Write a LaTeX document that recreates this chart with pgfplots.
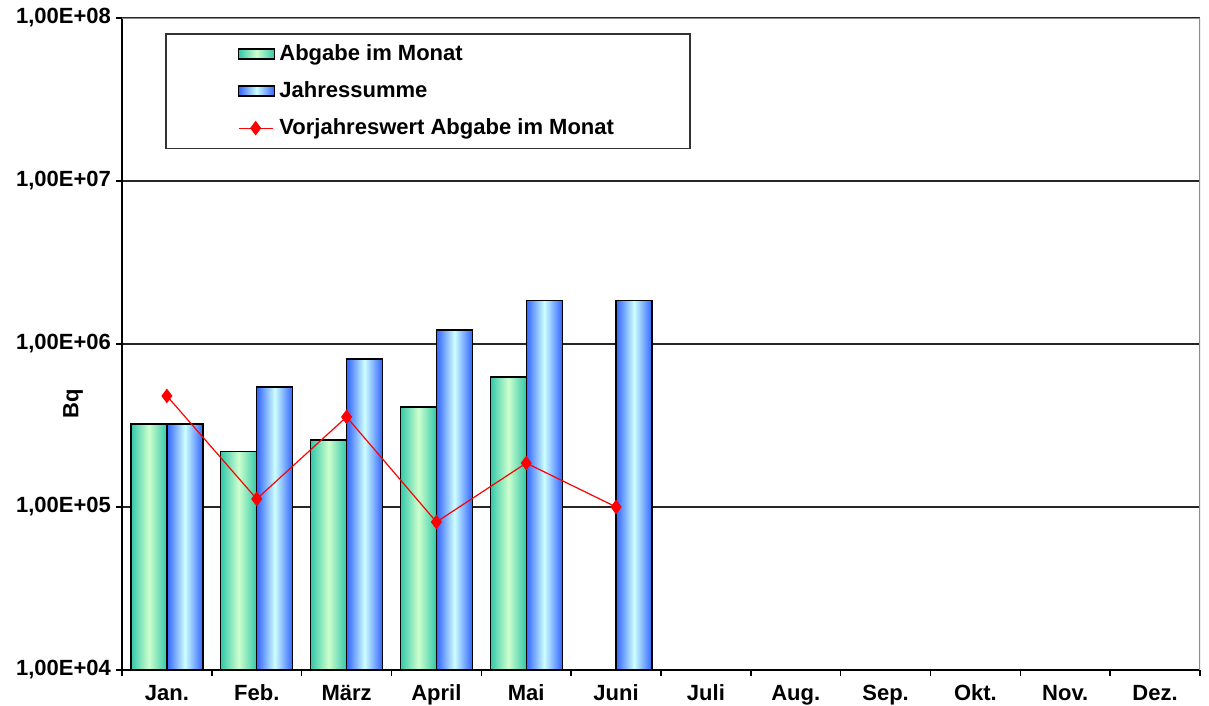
\documentclass[border=0pt]{standalone}
\usepackage{pgfplots}
\pgfplotsset{compat=1.18}
\usepackage{fontspec}
\setmainfont{Liberation Sans}
\definecolor{gedge}{RGB}{50,200,170}
\definecolor{gmid}{RGB}{205,255,205}
\definecolor{bedge}{RGB}{50,100,255}
\definecolor{bmid}{RGB}{205,255,255}
\pgfplotsset{
  gbar/.style={ybar, bar width=18pt, bar shift=-9pt, draw=black, line width=0.6pt,
    left color=gedge, right color=gedge, middle color=gmid, forget plot},
  bbar/.style={ybar, bar width=18pt, bar shift=9pt, draw=black, line width=0.6pt,
    left color=bedge, right color=bedge, middle color=bmid, forget plot},
}
\begin{document}
\begin{tikzpicture}
\begin{axis}[
  scale only axis,
  width=539pt, height=326pt,
  ymode=log, ymin=1e4, ymax=1e8,
  log origin=infty,
  xmin=-0.5, xmax=11.5,
  ytick={1e4,1e5,1e6,1e7,1e8},
  yticklabels={{1,00E+04},{1,00E+05},{1,00E+06},{1,00E+07},{1,00E+08}},
  yminorticks=false,
  xtick={-0.5,0.5,...,11.5},
  x tick label as interval,
  xticklabels={Jan.,Feb.,März,April,Mai,Juni,Juli,Aug.,Sep.,Okt.,Nov.,Dez.},
  tick align=outside,
  major tick length=3pt,
  tick style={black, line width=0.8pt},
  tick label style={font=\bfseries\fontsize{11}{13}\selectfont},
  yticklabel style={xshift=1pt},
  xticklabel style={yshift=-1pt},
  axis line style={black, line width=0.9pt},
  axis x line*=bottom,
  axis y line*=left,
  ymajorgrids,
  major grid style={black!85, line width=0.8pt},
  ylabel={Bq},
  ylabel style={at={(rel axis cs:0,0.408)}, anchor=center, xshift=0pt, yshift=24.5pt, font=\bfseries\fontsize{11}{13}\selectfont},
  legend style={at={(rel axis cs:0.0399,0.977)}, anchor=north west,
    draw=black!80, line width=0.8pt, inner xsep=36pt, inner ysep=3.5pt,
    row sep=5pt, font=\bfseries\fontsize{11}{13}\selectfont},
  legend cell align=left,
]
% Abgabe im Monat
\addplot[gbar] coordinates {(0,3.23e5)};
\addplot[gbar] coordinates {(1,2.18e5)};
\addplot[gbar] coordinates {(2,2.58e5)};
\addplot[gbar] coordinates {(3,4.11e5)};
\addplot[gbar] coordinates {(4,6.27e5)};
% Jahressumme
\addplot[bbar] coordinates {(0,3.23e5)};
\addplot[bbar] coordinates {(1,5.45e5)};
\addplot[bbar] coordinates {(2,8.09e5)};
\addplot[bbar] coordinates {(3,1.22e6)};
\addplot[bbar] coordinates {(4,1.84e6)};
\addplot[bbar] coordinates {(5,1.84e6)};
\addlegendimage{legend image code/.code={\draw[draw=black, line width=0.8pt, left color=gedge, right color=gedge, middle color=gmid] (0pt,-2.5pt) rectangle (18pt,2.5pt);}}
\addlegendentry{Abgabe im Monat}
\addlegendimage{legend image code/.code={\draw[draw=black, line width=0.8pt, left color=bedge, right color=bedge, middle color=bmid] (0pt,-2.5pt) rectangle (18pt,2.5pt);}}
\addlegendentry{Jahressumme}
\addplot[sharp plot, red, line width=0.6pt, mark=diamond*, mark size=3.2pt, mark options={solid, fill=red, draw=red}]
  coordinates {(0,4.8e5) (1,1.12e5) (2,3.57e5) (3,8.09e4) (4,1.86e5) (5,1.0e5)};
\addlegendentry{Vorjahreswert Abgabe im Monat}
\draw[black!45, line width=1pt] (rel axis cs:0,1) -- (rel axis cs:1,1) -- (rel axis cs:1,0);
\coordinate (pa) at (rel axis cs:0,0);
\end{axis}
\pgfresetboundingbox
\path (pa) ++(-61pt,-18pt) rectangle ++(604.5pt,353pt);
\end{tikzpicture}
\end{document}
